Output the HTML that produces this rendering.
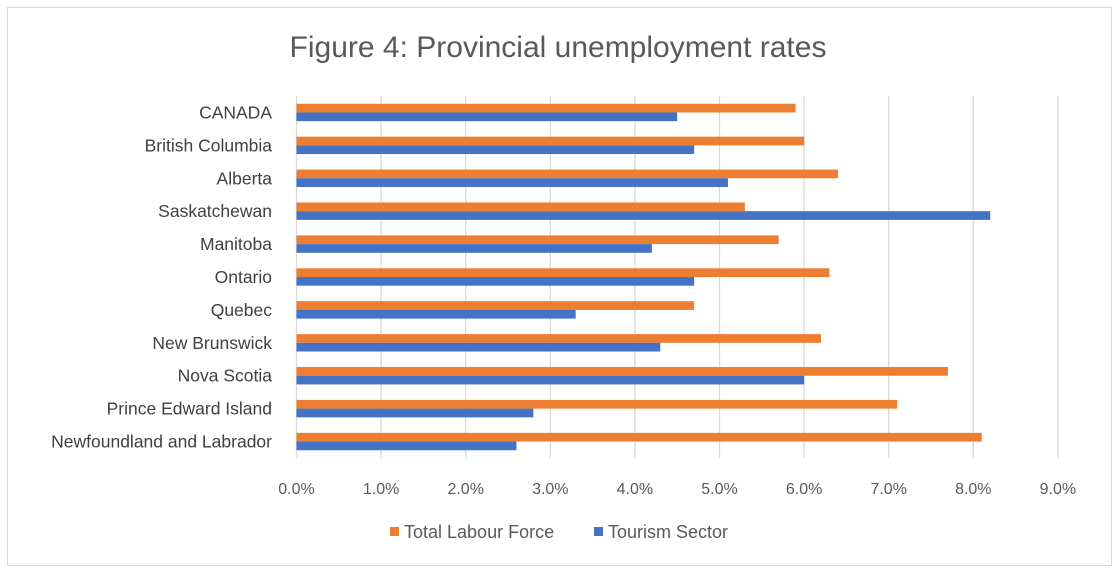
<!DOCTYPE html>
<html><head><meta charset="utf-8"><style>
html,body{margin:0;padding:0;background:#fff;}
svg text{font-family:"Liberation Sans",sans-serif;}
</style></head><body>
<svg id="chart" width="1120" height="573" viewBox="0 0 1120 573" xmlns="http://www.w3.org/2000/svg">
<rect x="7.5" y="7.5" width="1104" height="558" fill="#fff" stroke="#d9d9d9" stroke-width="1"/>
<text x="558" y="57" text-anchor="middle" font-size="30" fill="#595959">Figure 4: Provincial unemployment rates</text>
<g id="grid"></g>
<g id="bars"></g>
<g id="ylabels"></g>
<g id="xlabels"></g>
<g>
<rect x="390" y="527" width="9" height="9" fill="#ED7D31"/>
<text x="404" y="538" font-size="18" fill="#595959">Total Labour Force</text>
<rect x="594" y="527" width="9" height="9" fill="#4472C4"/>
<text x="608" y="538" font-size="18" fill="#595959">Tourism Sector</text>
</g>
</svg>
<script>
const categories = ["CANADA","British Columbia","Alberta","Saskatchewan","Manitoba","Ontario","Quebec","New Brunswick","Nova Scotia","Prince Edward Island","Newfoundland and Labrador"];
const totalLabour = [5.9,6.0,6.4,5.3,5.7,6.3,4.7,6.2,7.7,7.1,8.1];
const tourism = [4.5,4.7,5.1,8.2,4.2,4.7,3.3,4.3,6.0,2.8,2.6];
const xTicks = [0,1,2,3,4,5,6,7,8,9];
const xTickLabels = ["0.0%","1.0%","2.0%","3.0%","4.0%","5.0%","6.0%","7.0%","8.0%","9.0%"];

const NS = "http://www.w3.org/2000/svg";
const x0 = 296.5, xUnit = 84.6, plotTop = 96, plotBottom = 458;
const band = (plotBottom - plotTop) / categories.length;
const barH = 8.7;
function xs(v){ return x0 + v * xUnit; }
function yc(i){ return plotTop + band * i + band / 2; }
function mk(tag, attrs, parent){ const e = document.createElementNS(NS, tag); for (const k in attrs) e.setAttribute(k, attrs[k]); parent.appendChild(e); return e; }

const grid = document.getElementById('grid');
const xl = document.getElementById('xlabels');
xTicks.forEach((t, i) => {
  const l = mk('line', {x1: xs(t), x2: xs(t), y1: plotTop, y2: plotBottom, stroke: '#d9d9d9', 'stroke-width': 1.3}, grid);
  
  
  const tx = mk('text', {x: xs(t), y: 494, 'text-anchor': 'middle', 'font-size': 16, fill: '#595959'}, xl);
  tx.textContent = xTickLabels[i];
  
  
});

const bars = document.getElementById('bars');
const yl = document.getElementById('ylabels');
categories.forEach((c, i) => {
  const y = yc(i);
  const b1 = mk('rect', {x: xs(0), y: y - barH, width: xs(totalLabour[i]) - xs(0), height: barH, fill: '#ED7D31'}, bars);
  
  
  const b2 = mk('rect', {x: xs(0), y: y, width: xs(tourism[i]) - xs(0), height: barH, fill: '#4472C4'}, bars);
  
  
  const t = mk('text', {x: 272, y: y + 6, 'text-anchor': 'end', 'font-size': 17.5, fill: '#404040'}, yl);
  t.textContent = c;
  
  
});
</script>
</body></html>
